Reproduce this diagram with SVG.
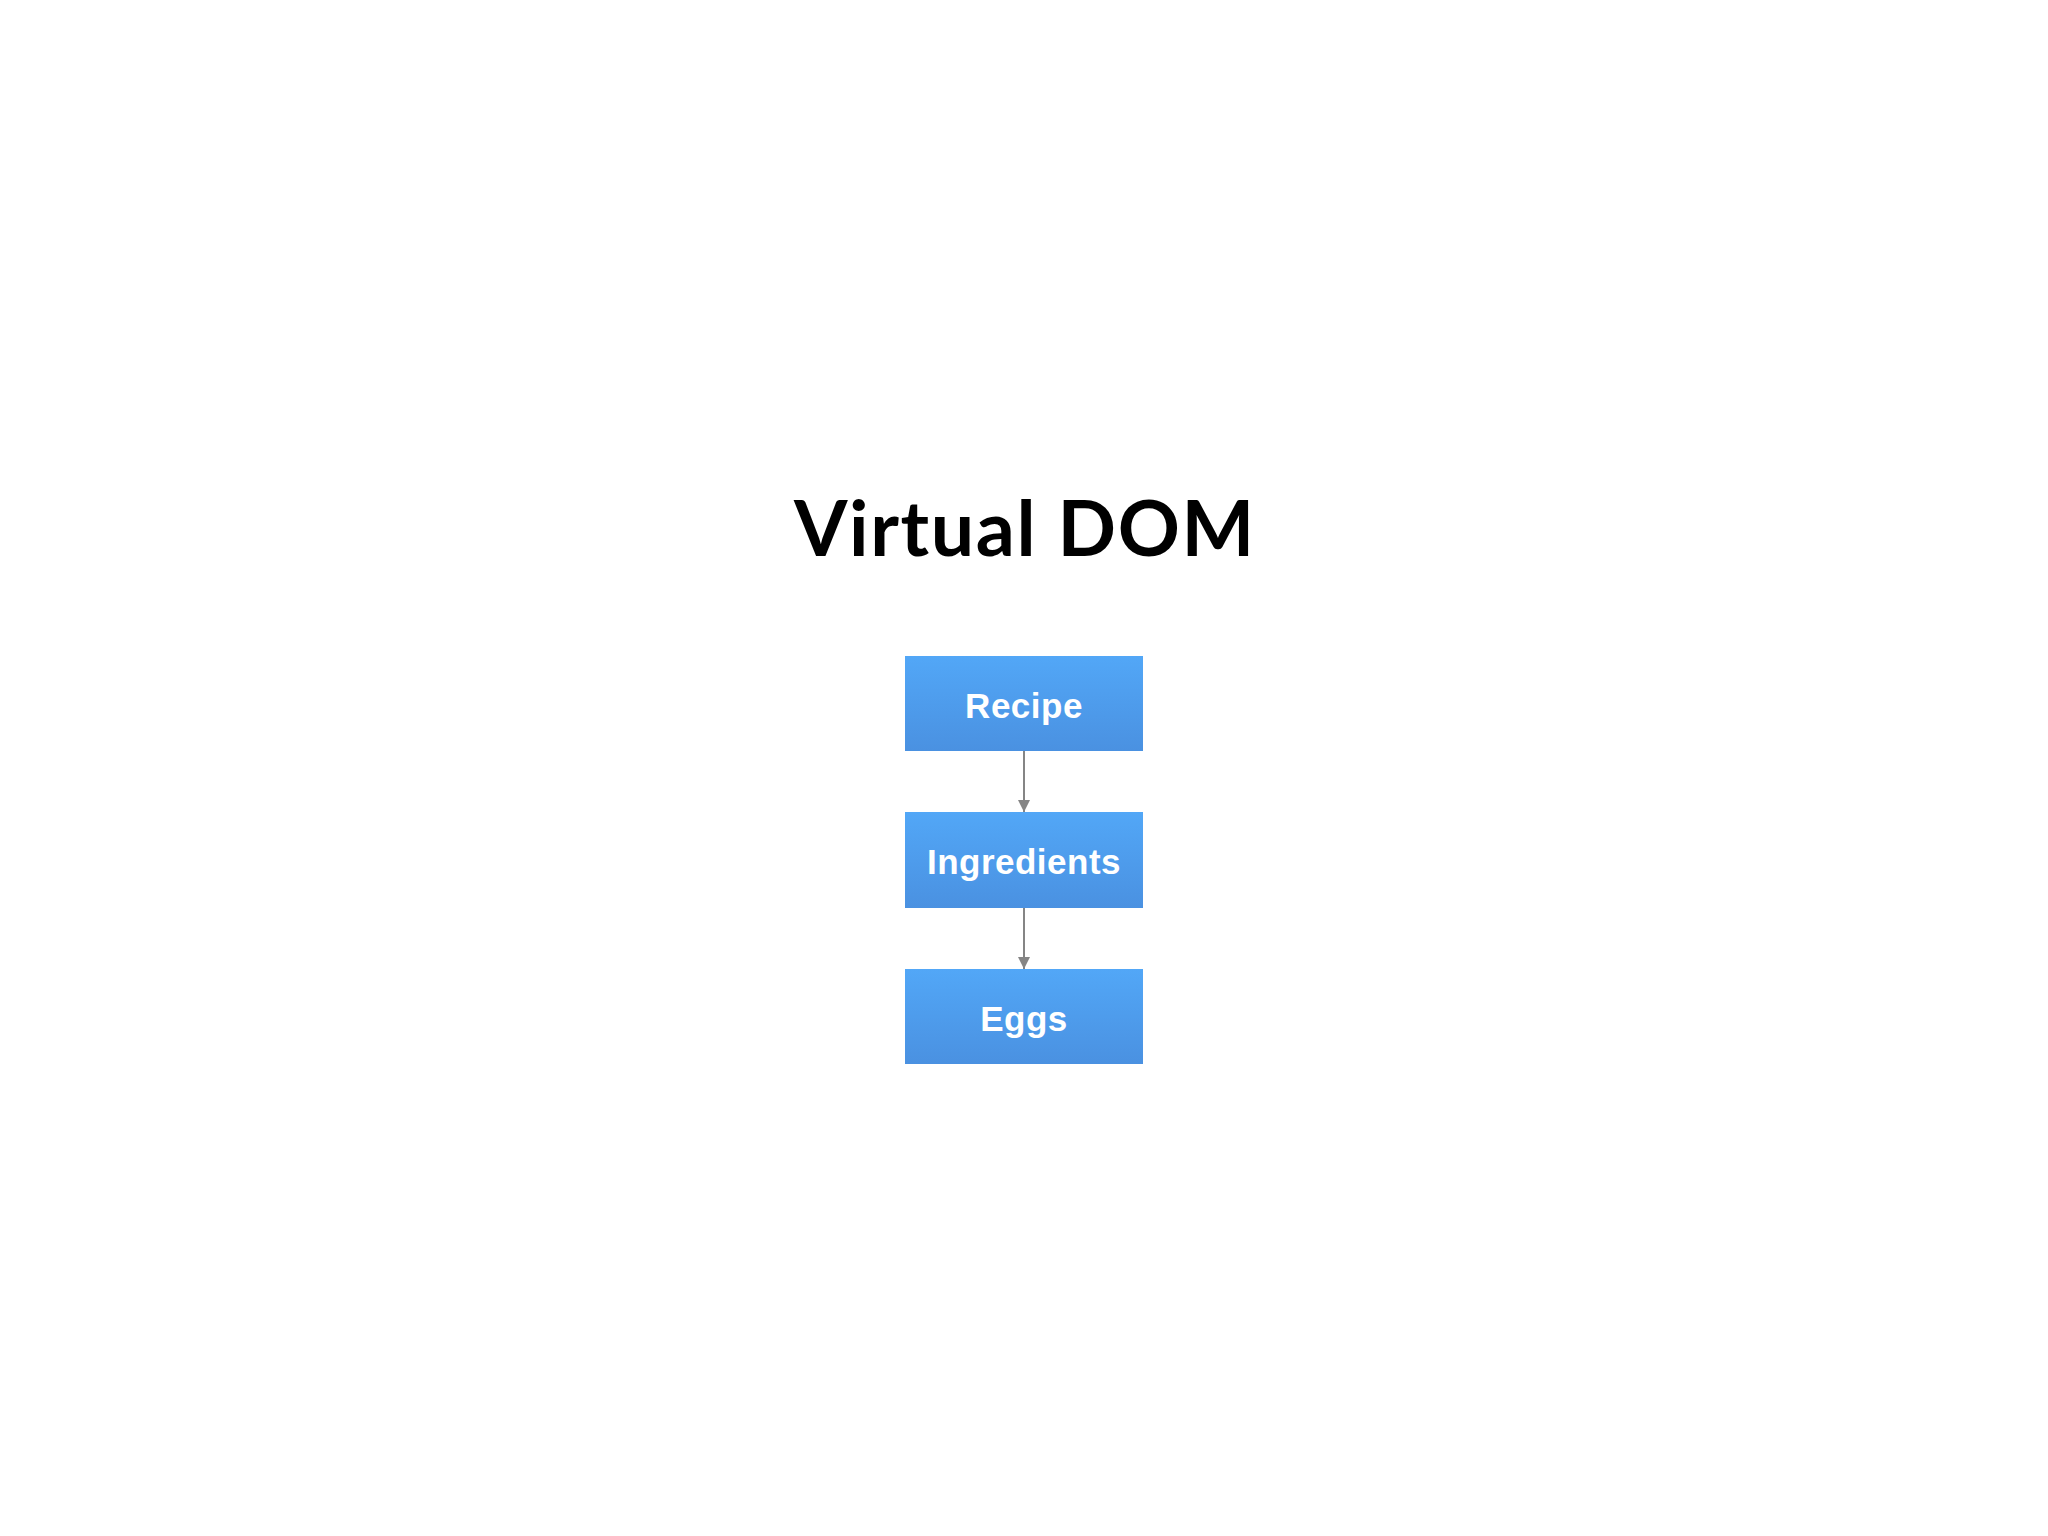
<svg xmlns="http://www.w3.org/2000/svg" width="2048" height="1536" viewBox="0 0 2048 1536">
  <defs>
    <linearGradient id="boxGrad" x1="0" y1="0" x2="0" y2="1">
      <stop offset="0" stop-color="#52a7f7"/>
      <stop offset="1" stop-color="#4a91e1"/>
    </linearGradient>
    <marker id="arrow" viewBox="0 0 12 12" refX="12" refY="6" markerWidth="12" markerHeight="12" markerUnits="userSpaceOnUse" orient="auto">
      <path d="M0,0 L12,6 L0,12 Z" fill="#858585"/>
    </marker>
    <style>
      .box { fill: url(#boxGrad); }
      .label { font-family: "Liberation Sans", Arial, sans-serif; font-weight: bold; font-size: 35px; letter-spacing: 0.5px; fill: #ffffff; text-anchor: middle; }
      .title { font-family: Lato, "Open Sans", sans-serif; font-weight: bold; font-size: 77px; letter-spacing: 1.6px; fill: #000000; text-anchor: middle; }
      .conn { stroke: #858585; stroke-width: 2; fill: none; }
    </style>
  </defs>
  <rect width="2048" height="1536" fill="#ffffff"/>
  <text class="title" x="1025" y="556">Virtual DOM</text>
  <g id="connectors">
    <line class="conn" x1="1024" y1="751" x2="1024" y2="812" marker-end="url(#arrow)"/>
    <line class="conn" x1="1024" y1="908" x2="1024" y2="969" marker-end="url(#arrow)"/>
  </g>
  <g id="recipe">
    <rect class="box" x="905" y="656" width="238" height="95"/>
    <text class="label" x="1024" y="718">Recipe</text>
  </g>
  <g id="ingredients">
    <rect class="box" x="905" y="812" width="238" height="96"/>
    <text class="label" x="1024" y="874">Ingredients</text>
  </g>
  <g id="eggs">
    <rect class="box" x="905" y="969" width="238" height="95"/>
    <text class="label" x="1024" y="1031">Eggs</text>
  </g>
</svg>
